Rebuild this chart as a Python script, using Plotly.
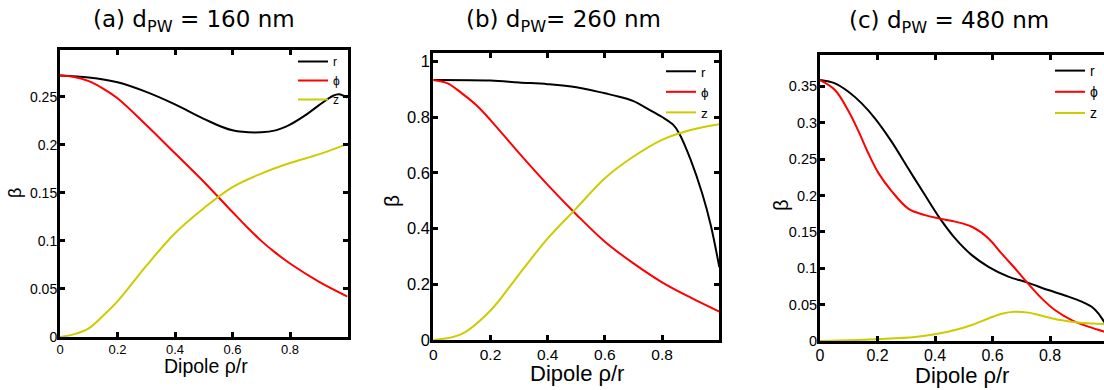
import plotly.graph_objects as go

W, H = 1104, 390

# ---------------- data ----------------
# (a) d_PW = 160 nm
a_r_rho = [0, 0.1, 0.2, 0.3, 0.4, 0.5, 0.6, 0.7, 0.75, 0.8, 0.85, 0.9, 0.95, 0.97, 1.0]
a_r_val = [0.272, 0.270, 0.265, 0.255, 0.242, 0.227, 0.215, 0.213, 0.215, 0.221, 0.230, 0.241, 0.251, 0.2525, 0.249]
a_phi_rho = [0, 0.05, 0.1, 0.15, 0.2, 0.3, 0.4, 0.5, 0.6, 0.65, 0.7, 0.75, 0.8, 0.9, 1.0]
a_phi_val = [0.272, 0.2705, 0.2662, 0.2585, 0.2484, 0.2206, 0.1911, 0.1616, 0.130, 0.1145, 0.100, 0.0875,
             0.0765, 0.0576, 0.042]
a_z_rho = [0, 0.05, 0.1, 0.15, 0.2, 0.3, 0.4, 0.5, 0.6, 0.7, 0.8, 0.9, 1.0]
a_z_val = [0, 0.003, 0.009, 0.0222, 0.037, 0.074, 0.108, 0.134, 0.156, 0.170, 0.181, 0.190, 0.201]

# (b) d_PW = 260 nm
b_r_rho = [0, 0.2, 0.3, 0.4, 0.5, 0.6, 0.65, 0.7, 0.75, 0.8, 0.84, 0.86, 0.9, 0.94, 0.97, 1.0]
b_r_val = [0.934, 0.932, 0.925, 0.919, 0.908, 0.886, 0.874, 0.858, 0.830, 0.801, 0.772, 0.742, 0.647, 0.527, 0.413, 0.262]
b_phi_rho = [0, 0.05, 0.1, 0.15, 0.2, 0.3, 0.4, 0.5, 0.6, 0.7, 0.8, 0.9, 1.0]
b_phi_val = [0.934, 0.922, 0.886, 0.844, 0.790, 0.671, 0.557, 0.451, 0.353, 0.275, 0.207, 0.152, 0.102]
b_z_rho = [0, 0.1, 0.2, 0.3, 0.4, 0.5, 0.6, 0.7, 0.8, 0.9, 1.0]
b_z_val = [0, 0.022, 0.106, 0.236, 0.365, 0.473, 0.581, 0.659, 0.719, 0.754, 0.775]

# (c) d_PW = 480 nm
c_r_rho = [0, 0.052, 0.099, 0.145, 0.191, 0.249, 0.307, 0.365, 0.417, 0.47, 0.528, 0.586, 0.655,
           0.72, 0.794, 0.864, 0.91, 0.945, 0.968, 0.988, 1.0]
c_r_val = [0.3585, 0.354, 0.3425, 0.3265, 0.306, 0.274, 0.237, 0.2005, 0.1685, 0.141, 0.118, 0.102,
           0.0884, 0.0806, 0.070, 0.061, 0.054, 0.047, 0.038, 0.0266, 0.02]
c_phi_rho = [0, 0.052, 0.099, 0.133, 0.168, 0.203, 0.249, 0.307, 0.365, 0.412, 0.47, 0.528, 0.586,
             0.632, 0.678, 0.72, 0.771, 0.817, 0.875, 0.933, 0.988, 1.0]
c_phi_val = [0.3585, 0.345, 0.316, 0.289, 0.258, 0.231, 0.206, 0.182, 0.173, 0.1685, 0.164, 0.157,
             0.141, 0.120, 0.100, 0.0806, 0.0586, 0.0426, 0.0288, 0.0197, 0.0128, 0.011]
c_z_rho = [0, 0.099, 0.2145, 0.33, 0.4, 0.47, 0.528, 0.586, 0.632, 0.678, 0.725, 0.771, 0.817,
           0.875, 0.933, 0.988, 1.0]
c_z_val = [0, 0.001, 0.0027, 0.0055, 0.0092, 0.0151, 0.022, 0.031, 0.0375, 0.0403, 0.039, 0.0348,
           0.0302, 0.0266, 0.0243, 0.0234, 0.0233]

titles = ["(a) d<sub>PW</sub> = 160 nm", "(b) d<sub>PW</sub>= 260 nm", "(c) d<sub>PW</sub> = 480 nm"]
series_names = ["r", "\u03d5", "z"]
colors = ["black", "#ff0000", "#cccc00"]

x_ticks = [0, 0.2, 0.4, 0.6, 0.8]
x_ticktext = ["0", "0.2", "0.4", "0.6", "0.8"]
a_yticks = [0, 0.05, 0.1, 0.15, 0.2, 0.25]
a_yticktext = ["0", "0.05", "0.1", "0.15", "0.2", "0.25"]
b_yticks = [0, 0.2, 0.4, 0.6, 0.8, 1.0]
b_yticktext = ["0", "0.2", "0.4", "0.6", "0.8", "1"]
c_yticks = [0, 0.05, 0.1, 0.15, 0.2, 0.25, 0.3, 0.35]
c_yticktext = ["0", "0.05", "0.1", "0.15", "0.2", "0.25", "0.3", "0.35"]

# ---------------- layout helpers (pixel boxes) ----------------
def px_x(p):
    return p / W

def px_y(p):
    return 1 - p / H

boxes = [  # left, right, top, bottom in pixels
    (60, 347.5, 50, 337),
    (433.3, 719.3, 52.7, 340),
    (820, 1104, 55, 341),
]

FONT = "Liberation Sans, Arial, sans-serif"

fig = go.Figure()

panels = [
    ([a_r_rho, a_phi_rho, a_z_rho], [a_r_val, a_phi_val, a_z_val]),
    ([b_r_rho, b_phi_rho, b_z_rho], [b_r_val, b_phi_val, b_z_val]),
    ([c_r_rho, c_phi_rho, c_z_rho], [c_r_val, c_phi_val, c_z_val]),
]
legend_ids = ["legend", "legend2", "legend3"]

for i, (xs, ys) in enumerate(panels):
    xa = "x" if i == 0 else f"x{i+1}"
    ya = "y" if i == 0 else f"y{i+1}"
    for k in range(3):
        fig.add_trace(go.Scatter(
            x=xs[k], y=ys[k], mode="lines", name=series_names[k],
            line=dict(color=colors[k], width=2, shape="spline", smoothing=1.0),
            xaxis=xa, yaxis=ya, legend=legend_ids[i], showlegend=True,
            hoverinfo="skip",
        ))

def axis_common(size):
    return dict(showline=True, linecolor="black", linewidth=3, ticks="inside", ticklen=5,
                tickwidth=2.5, tickcolor="black", showgrid=False, zeroline=False,
                tickfont=dict(family=FONT, size=size, color="black"), automargin=False,
                fixedrange=True)

x_font = [13, 15.5, 16]
y_font = [14, 16.5, 14.5]
y_ranges = [[0, 0.2986], [0, 1.032], [0, 0.393]]
y_tv = [a_yticks, b_yticks, c_yticks]
y_tt = [a_yticktext, b_yticktext, c_yticktext]
x_ranges = [[0, 1.0], [0, 1.0], [0, (1104 - 820) / 287.5]]

layout = {}
for i in range(3):
    l, r, t, b = boxes[i]
    xk = "xaxis" if i == 0 else f"xaxis{i+1}"
    yk = "yaxis" if i == 0 else f"yaxis{i+1}"
    xa = "x" if i == 0 else f"x{i+1}"
    ya = "y" if i == 0 else f"y{i+1}"
    layout[xk] = dict(domain=[px_x(l), min(1.0, px_x(r))], anchor=ya, range=x_ranges[i],
                      tickmode="array", tickvals=x_ticks, ticktext=x_ticktext, mirror="ticks",
                      ticklabelstandoff=-2, **axis_common(x_font[i]))
    layout[yk] = dict(domain=[px_y(b), px_y(t)], anchor=xa, range=y_ranges[i],
                      tickmode="array", tickvals=y_tv[i], ticktext=y_tt[i], ticklabelstandoff=-3,
                      mirror=("ticks" if i < 2 else False), **axis_common(y_font[i]))

# right-side ticks for the cut-off panel (c), without spine line
layout["yaxis4"] = dict(overlaying="y3", side="right", anchor="x3", range=y_ranges[2],
                        tickmode="array", tickvals=c_yticks, showticklabels=False,
                        ticks="inside", ticklen=5, tickwidth=2.5, tickcolor="black",
                        showline=False, showgrid=False, zeroline=False, automargin=False,
                        fixedrange=True)

fig.update_layout(**layout)

annotations = []
title_pos = [(194, 21), (563, 21), (949, 22)]
for i in range(3):
    annotations.append(dict(text=titles[i], x=px_x(title_pos[i][0]), y=px_y(title_pos[i][1]),
                            xref="paper", yref="paper", showarrow=False,
                            xanchor="center", yanchor="middle",
                            font=dict(family="DejaVu Sans, Verdana, sans-serif", size=23, color="black")))
xt_pos = [(206, 366, 19.5), (577, 373, 22), (962, 375, 22)]
for (x, y, s) in xt_pos:
    annotations.append(dict(text="Dipole \u03c1/r", x=px_x(x), y=px_y(y), xref="paper", yref="paper",
                            showarrow=False, xanchor="center", yanchor="middle",
                            font=dict(family=FONT, size=s, color="black")))
yt_pos = [(15, 193, 18), (392, 201, 21), (781, 205, 20)]
for (x, y, s) in yt_pos:
    annotations.append(dict(text="\u03b2", x=px_x(x), y=px_y(y), xref="paper", yref="paper",
                            showarrow=False, xanchor="center", yanchor="middle", textangle=-90,
                            font=dict(family=FONT, size=s, color="black")))

leg_common = dict(xanchor="left", yanchor="top", bgcolor="rgba(0,0,0,0)", borderwidth=0,
                  traceorder="normal", itemwidth=30, tracegroupgap=0)
fig.update_layout(
    width=W, height=H,
    margin=dict(l=0, r=0, t=0, b=0, pad=0, autoexpand=False),
    paper_bgcolor="white", plot_bgcolor="white",
    annotations=annotations,
    legend=dict(x=px_x(293), y=px_y(47), font=dict(family=FONT, size=12, color="black"), **leg_common),
    legend2=dict(x=px_x(661), y=px_y(56), font=dict(family=FONT, size=13.5, color="black"), **leg_common),
    legend3=dict(x=px_x(1050), y=px_y(55), font=dict(family=FONT, size=14, color="black"), **leg_common),
)

fig.write_html("out.html", config={"displayModeBar": False},
               post_script="document.body.style.margin='0px';")
